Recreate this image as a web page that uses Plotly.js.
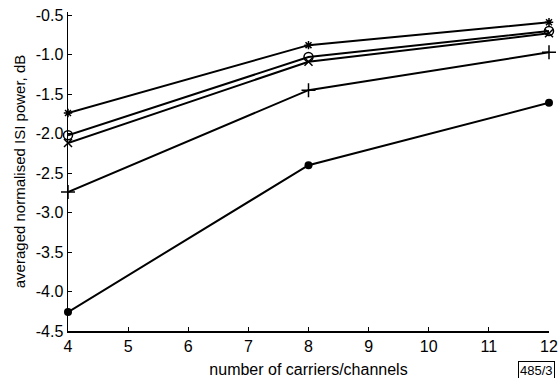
<!DOCTYPE html>
<html><head><meta charset="utf-8">
<script src="https://cdn.plot.ly/plotly-3.0.1.min.js"></script>
<style>html,body{margin:0;padding:0;background:#fff}#chart{width:559px;height:378px}</style>
</head><body><div id="chart"></div>
<script>
const carriers = [4, 8, 12];
const seriesStar   = [-1.74, -0.88, -0.59];
const seriesCircle = [-2.02, -1.03, -0.70];
const seriesX      = [-2.12, -1.09, -0.73];
const seriesPlus   = [-2.74, -1.45, -0.97];
const seriesDot    = [-4.26, -2.40, -1.61];
const xTicks = [4, 5, 6, 7, 8, 9, 10, 11, 12];
const yTicks = [-4.5, -4.0, -3.5, -3.0, -2.5, -2.0, -1.5, -1.0, -0.5];

function tr(y, sym, size, lw) {
  return {x: carriers, y: y, type: 'scatter', mode: 'lines+markers', cliponaxis: false,
    line: {color: '#000', width: 2},
    marker: {symbol: sym, size: size, color: '#000', line: {color: '#000', width: lw}}};
}
const data = [
  tr(seriesStar, 'asterisk-open', 7, 1.5),
  tr(seriesCircle, 'circle-open', 9, 1.5),
  tr(seriesX, 'x-thin-open', 8, 1.5),
  tr(seriesPlus, 'cross-thin-open', 10, 1.5),
  tr(seriesDot, 'circle', 8, 0)
];
const ff = 'Liberation Sans, Arial, sans-serif';
const layout = {
  width: 559, height: 378, showlegend: false,
  paper_bgcolor: '#fff', plot_bgcolor: '#fff',
  margin: {l: 68, r: 10, t: 12, b: 47},
  font: {family: ff, color: '#000'},
  xaxis: {range: [4, 12], tickvals: xTicks, ticktext: xTicks.map(String), ticklabeloverflow: 'allow',
    showgrid: false, zeroline: false, showline: true, linecolor: '#000', linewidth: 1.5,
    ticks: 'inside', ticklen: 4, tickcolor: '#000', tickfont: {size: 16, family: ff},
    title: {text: 'number of carriers/channels', font: {size: 16, family: ff}, standoff: 10}},
  yaxis: {range: [-4.5, -0.46], tickvals: yTicks, ticktext: yTicks.map(v => v.toFixed(1)),
    showgrid: false, zeroline: false, showline: true, linecolor: '#000', linewidth: 1.5,
    ticks: 'inside', ticklen: 4, tickcolor: '#000', tickfont: {size: 16, family: ff},
    title: {text: 'averaged normalised ISI power, dB', font: {size: 15, family: ff}, standoff: 6}},
  annotations: [{xref: 'paper', yref: 'paper', x: 1.0125, y: -0.094, xanchor: 'right', yanchor: 'top',
    text: '485/3', showarrow: false, font: {size: 13, family: ff},
    bordercolor: '#000', borderwidth: 1, borderpad: 1}]
};
Plotly.newPlot('chart', data, layout, {staticPlot: true});
</script></body></html>
